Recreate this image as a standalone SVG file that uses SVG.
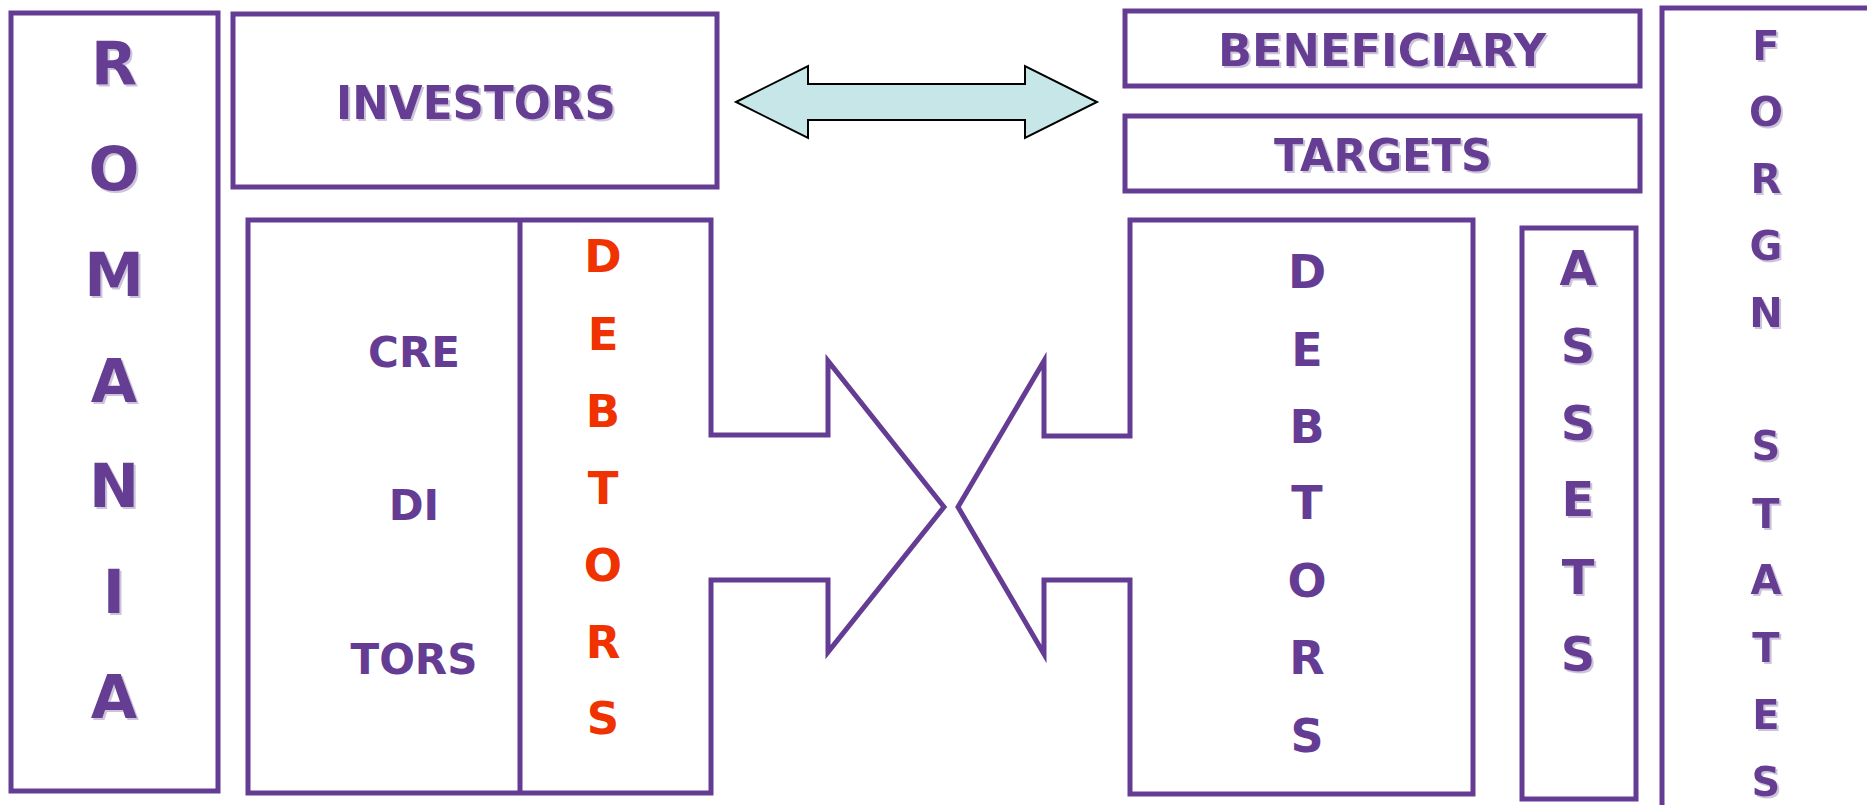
<svg xmlns="http://www.w3.org/2000/svg" width="1867" height="805" viewBox="0 0 1867 805">
<defs>
<filter id="sh" x="-20%" y="-20%" width="140%" height="140%">
<feDropShadow dx="2" dy="2" stdDeviation="0.6" flood-color="#cdc4dc" flood-opacity="1"/>
</filter>
</defs>
<style>
.box{fill:none;stroke:#653c93;stroke-width:5}
.t{font-family:"DejaVu Sans","Liberation Sans",sans-serif;font-weight:bold;fill:#653c93;text-anchor:middle}
.s{filter:url(#sh)}
.red{fill:#f03200}
.arrow{fill:#c6e6e8;stroke:#000;stroke-width:2}
</style>
<rect width="1867" height="805" fill="#fff"/>

<g id="romania">
<rect class="box" x="11" y="13" width="207" height="778"/>
<g class="t s" font-size="60">
<text x="114" y="85">R</text>
<text x="114" y="190">O</text>
<text x="114" y="296">M</text>
<text x="114" y="402">A</text>
<text x="114" y="507">N</text>
<text x="114" y="613">I</text>
<text x="114" y="718">A</text>
</g>
</g>

<g id="investors">
<rect class="box" x="233" y="14" width="484" height="173"/>
<text class="t s" x="476" y="119" font-size="47" textLength="280" lengthAdjust="spacingAndGlyphs">INVESTORS</text>
</g>

<g id="beneficiary">
<rect class="box" x="1125" y="11" width="515" height="75"/>
<text class="t s" x="1382" y="66" font-size="44" textLength="328" lengthAdjust="spacingAndGlyphs">BENEFICIARY</text>
</g>

<g id="targets">
<rect class="box" x="1125" y="116" width="515" height="75"/>
<text class="t s" x="1383" y="171" font-size="44" textLength="218" lengthAdjust="spacingAndGlyphs">TARGETS</text>
</g>

<g id="foreign-states">
<rect class="box" x="1662" y="8" width="208" height="810"/>
<g class="t s" font-size="40">
<text x="1766" y="60">F</text>
<text x="1766" y="126">O</text>
<text x="1766" y="193">R</text>
<text x="1766" y="260">G</text>
<text x="1766" y="327">N</text>
<text x="1766" y="460">S</text>
<text x="1766" y="528">T</text>
<text x="1766" y="594">A</text>
<text x="1766" y="662">T</text>
<text x="1766" y="729">E</text>
<text x="1766" y="796">S</text>
</g>
</g>

<g id="creditors-debtors">
<polygon class="box" points="248,220 711,220 711,435 828,435 828,361 944,507 828,652 828,580 711,580 711,793 248,793"/>
<line class="box" x1="520" y1="220" x2="520" y2="793"/>
<g class="t" font-size="42">
<text x="414" y="367">CRE</text>
<text x="414" y="520">DI</text>
<text x="414" y="674">TORS</text>
</g>
<g class="t red" font-size="45">
<text x="603" y="272">D</text>
<text x="603" y="350">E</text>
<text x="603" y="427">B</text>
<text x="603" y="504">T</text>
<text x="603" y="581">O</text>
<text x="603" y="658">R</text>
<text x="603" y="734">S</text>
</g>
</g>

<g id="debtors">
<polygon class="box" points="1130,220 1473,220 1473,794 1130,794 1130,580 1044,580 1044,654 958,507 1044,361 1044,436 1130,436"/>
<g class="t" font-size="46">
<text x="1307" y="288">D</text>
<text x="1307" y="366">E</text>
<text x="1307" y="443">B</text>
<text x="1307" y="519">T</text>
<text x="1307" y="597">O</text>
<text x="1307" y="674">R</text>
<text x="1307" y="752">S</text>
</g>
</g>

<g id="assets">
<rect class="box" x="1522" y="228" width="114" height="571"/>
<g class="t s" font-size="48">
<text x="1578" y="285">A</text>
<text x="1578" y="363">S</text>
<text x="1578" y="440">S</text>
<text x="1578" y="516">E</text>
<text x="1578" y="594">T</text>
<text x="1578" y="671">S</text>
</g>
</g>

<g id="connectors">
<polygon class="arrow" points="736,102 808,66 808,84 1025,84 1025,66 1097,102 1025,138 1025,120 808,120 808,138"/>
</g>
</svg>
